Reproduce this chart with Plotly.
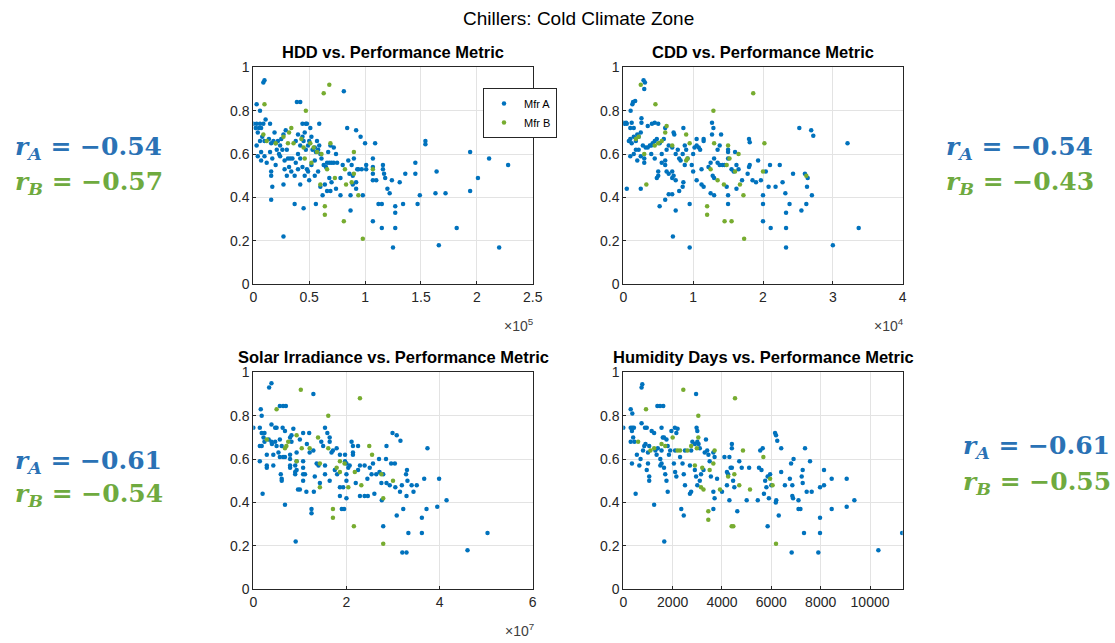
import plotly.graph_objects as go

# ---------------- data ----------------
# Panel 1: HDD (x in units of 1e5) vs performance metric
hdd_a = [(0.09,0.93),(0.10,0.94),(0.81,0.89),(0.03,0.83),(0.39,0.84),(0.42,0.84),(0.06,0.80),(0.11,0.76),
         (0.00,0.74),(0.03,0.74),(0.06,0.74),(0.09,0.74),(0.15,0.74),(0.44,0.74),(0.47,0.74),(0.59,0.74),
         (0.84,0.72),(0.92,0.71),(0.96,0.68),(1.00,0.65),(1.09,0.65),(1.54,0.66),(1.54,0.645),(1.94,0.61),(2.11,0.58),(2.28,0.55),
         (1.45,0.56),(1.45,0.51),(1.36,0.51),(1.64,0.52),(1.31,0.47),(1.24,0.48),(1.16,0.55),(1.16,0.53),(1.17,0.51),(1.18,0.49),
         (1.07,0.58),(1.07,0.54),(1.07,0.51),(1.07,0.48),(1.10,0.48),(1.01,0.55),(1.01,0.53),(0.97,0.53),(0.94,0.53),(0.90,0.58),(2.01,0.49),
         (1.94,0.43),(1.63,0.42),(1.72,0.42),(1.49,0.41),(1.47,0.37),(1.34,0.37),(1.27,0.36),(1.27,0.33),(1.12,0.37),(1.15,0.37),
         (1.07,0.29),(1.15,0.26),(1.27,0.26),(1.82,0.26),(1.25,0.17),(1.66,0.18),(2.20,0.17),(0.27,0.22),
         (0.98,0.41),(0.87,0.41),(0.78,0.41),(0.69,0.43),(0.87,0.34),(0.45,0.35),(0.37,0.37),(0.56,0.37),(0.16,0.39),(0.17,0.45),
         (0.27,0.46),(0.42,0.46),(1.20,0.44),(1.22,0.42),(0.92,0.47),(0.89,0.50),(0.85,0.57),
         (0.02,0.72),(0.05,0.72),(0.07,0.72),(0.04,0.70),(0.08,0.68),(0.06,0.66),(0.10,0.66),(0.03,0.64),(0.07,0.61),(0.04,0.59),
         (0.07,0.57),(0.12,0.56),(0.10,0.59),(0.14,0.67),(0.16,0.65),(0.18,0.66),(0.20,0.65),(0.22,0.66),(0.24,0.64),(0.25,0.67),
         (0.27,0.69),(0.29,0.71),(0.19,0.70),(0.21,0.62),(0.23,0.60),(0.15,0.61),(0.17,0.58),(0.16,0.52),(0.16,0.50),(0.20,0.55),
         (0.24,0.59),(0.26,0.62),(0.28,0.57),(0.28,0.53),(0.30,0.62),(0.31,0.58),(0.33,0.58),(0.35,0.58),(0.32,0.54),(0.34,0.52),
         (0.30,0.50),(0.38,0.56),(0.40,0.60),(0.42,0.64),(0.44,0.68),(0.46,0.70),(0.45,0.66),(0.40,0.69),(0.38,0.66),(0.47,0.62),
         (0.49,0.64),(0.50,0.66),(0.52,0.68),(0.51,0.72),(0.48,0.74),(0.53,0.62),(0.55,0.63),(0.56,0.61),(0.58,0.62),(0.57,0.66),
         (0.60,0.60),(0.61,0.58),(0.59,0.64),(0.55,0.57),(0.52,0.55),(0.48,0.53),(0.46,0.50),(0.49,0.52),(0.50,0.48),(0.44,0.54),
         (0.42,0.58),(0.37,0.50),(0.40,0.53),(0.55,0.50),(0.58,0.52),(0.60,0.45),(0.63,0.55),(0.65,0.54),(0.66,0.56),(0.68,0.56),
         (0.70,0.56),(0.72,0.56),(0.67,0.61),(0.69,0.64),(0.72,0.63),(0.74,0.60),(0.75,0.56),(0.68,0.49),(0.70,0.47),(0.74,0.44),
         (0.64,0.46),(0.62,0.41),(0.66,0.43),(0.78,0.49),(0.80,0.55),(0.86,0.51),(0.88,0.55),(0.89,0.46),(0.92,0.44),(0.93,0.53)]
hdd_b = [(0.68,0.92),(0.63,0.88),(0.10,0.83),(0.47,0.80),(0.90,0.61),(0.82,0.53),(0.88,0.47),(0.90,0.51),(0.83,0.46),
         (0.94,0.41),(0.98,0.21),(0.81,0.29),(0.64,0.32),(0.64,0.36),(0.60,0.46),(0.73,0.49),(0.69,0.65),(0.52,0.56),
         (0.46,0.58),(0.61,0.60),(0.66,0.53),(1.07,0.53),(0.34,0.72),(0.32,0.70),(0.31,0.65),(0.36,0.65),(0.27,0.68),
         (0.09,0.69),(0.12,0.66),(0.43,0.67),(0.51,0.65),(0.54,0.63),(0.45,0.63),(0.57,0.61),(0.20,0.65)]

# Panel 2: CDD (x in units of 1e4)
cdd_a = [(0.29,0.94),(0.31,0.93),(0.30,0.90),(0.14,0.84),(0.17,0.845),(0.13,0.83),(0.105,0.80),(0.00,0.745),(0.04,0.745),
         (0.12,0.745),(0.26,0.765),(0.26,0.745),(0.41,0.74),(0.45,0.745),(0.50,0.74),(1.27,0.745),(1.29,0.72),(0.86,0.72),
         (0.60,0.72),(2.52,0.72),(2.69,0.71),(2.72,0.685),(3.21,0.65),(1.80,0.67),(1.81,0.655),(0.72,0.70),(0.73,0.69),
         (2.43,0.51),(2.60,0.51),(2.64,0.49),(2.63,0.45),(2.70,0.41),(2.62,0.37),(2.55,0.34),(2.38,0.37),(2.32,0.42),
         (2.33,0.33),(2.33,0.26),(2.33,0.17),(2.11,0.26),(2.00,0.29),(2.00,0.37),(2.00,0.41),(2.08,0.45),(2.18,0.45),
         (2.28,0.47),(2.24,0.55),(2.10,0.55),(2.04,0.52),(1.97,0.48),(1.90,0.47),(1.85,0.48),(1.80,0.54),(1.81,0.55),
         (1.78,0.51),(1.93,0.57),(1.70,0.48),(1.65,0.53),(1.62,0.44),(1.58,0.52),(1.55,0.53),(1.62,0.55),(1.50,0.61),
         (1.50,0.62),(1.50,0.58),(1.48,0.45),(1.50,0.41),(1.50,0.37),(1.42,0.55),(1.38,0.55),(1.35,0.56),(1.30,0.58),
         (1.25,0.56),(1.22,0.54),(1.28,0.50),(1.30,0.49),(1.30,0.41),(1.25,0.42),(1.15,0.45),(1.12,0.46),(1.15,0.67),
         (1.15,0.66),(1.05,0.67),(1.02,0.63),(1.08,0.63),(1.10,0.62),(1.00,0.60),(0.98,0.55),(1.00,0.52),(1.05,0.48),
         (0.95,0.37),(0.95,0.17),(1.27,0.69),(1.35,0.62),(1.40,0.69),(1.38,0.64),(1.12,0.53),(3.00,0.18),(3.37,0.26),
         (0.71,0.22),(0.75,0.34),(0.52,0.36),(0.60,0.39),(0.65,0.415),(0.70,0.415),(0.80,0.43),(0.85,0.45),(0.86,0.47),
         (0.75,0.48),(0.70,0.49),(0.72,0.50),(0.70,0.52),(0.65,0.51),(0.62,0.52),(0.60,0.55),(0.60,0.57),(0.55,0.56),
         (0.50,0.50),(0.48,0.49),(0.50,0.52),(0.45,0.58),(0.40,0.60),(0.42,0.65),(0.45,0.66),(0.48,0.67),(0.52,0.65),
         (0.55,0.60),(0.62,0.62),(0.65,0.64),(0.70,0.63),(0.75,0.60),(0.78,0.62),(0.80,0.58),(0.85,0.60),(0.90,0.62),
         (0.92,0.58),(0.88,0.55),(0.82,0.57),(0.30,0.56),(0.30,0.58),(0.25,0.59),(0.20,0.57),(0.15,0.60),(0.10,0.59),
         (0.05,0.44),(0.25,0.44),(0.12,0.65),(0.10,0.67),(0.15,0.68),(0.20,0.69),(0.22,0.68),(0.25,0.70),(0.28,0.64),
         (0.32,0.63),(0.35,0.63),(0.38,0.64),(0.18,0.62),(0.22,0.62),(0.10,0.72),(0.15,0.72),(0.05,0.74),(0.35,0.73),
         (0.40,0.64),(0.02,0.74),(0.08,0.66),(0.18,0.66),(0.58,0.67),(0.88,0.64),(1.05,0.64),(1.45,0.55),(1.60,0.61)]
cdd_b = [(0.25,0.92),(1.86,0.88),(0.46,0.83),(1.29,0.80),(0.62,0.73),(0.60,0.70),(0.18,0.67),(0.22,0.68),(0.30,0.60),
         (0.45,0.64),(0.50,0.65),(0.55,0.66),(0.90,0.69),(0.95,0.65),(0.90,0.57),(0.92,0.58),(1.30,0.65),(1.35,0.48),
         (1.44,0.46),(1.50,0.64),(1.48,0.55),(1.52,0.58),(1.60,0.52),(1.65,0.60),(1.72,0.41),(1.55,0.29),(1.45,0.29),
         (1.20,0.36),(1.20,0.32),(1.25,0.53),(1.73,0.21),(2.02,0.65),(2.00,0.52),(2.62,0.50),(0.33,0.46),(0.70,0.64),(1.67,0.46)]

# Panel 3: Solar irradiance (x in units of 1e7)
sol_a = [(0.34,0.93),(0.39,0.95),(1.29,0.90),(0.16,0.83),(0.18,0.80),(0.57,0.845),(0.64,0.845),(0.70,0.845),
         (0.00,0.745),(0.14,0.745),(0.18,0.72),(0.24,0.72),(0.39,0.76),(0.47,0.745),(0.50,0.745),(0.63,0.745),(0.68,0.73),
         (0.86,0.74),(0.82,0.71),(1.07,0.72),(0.22,0.70),(0.24,0.68),(0.39,0.68),(0.47,0.68),(0.57,0.69),(0.14,0.66),
         (0.29,0.62),(0.43,0.62),(0.54,0.63),(0.14,0.59),(0.29,0.57),(0.43,0.57),(0.57,0.61),(0.64,0.61),(0.79,0.60),
         (0.90,0.57),(0.93,0.55),(1.07,0.53),(0.90,0.53),(0.79,0.56),(0.61,0.51),(0.61,0.50),(0.96,0.46),(0.29,0.56),
         (0.18,0.66),(0.33,0.69),(0.40,0.67),(0.50,0.66),(0.61,0.66),(0.79,0.70),(0.82,0.68),(0.68,0.61),(0.79,0.62),
         (0.93,0.63),(0.93,0.59),(0.79,0.57),(0.90,0.54),(1.07,0.59),(1.07,0.56),(1.11,0.53),(1.07,0.50),(1.14,0.45),
         (1.00,0.46),(0.59,0.53),(1.25,0.37),(1.25,0.35),(0.68,0.39),(0.20,0.44),(0.91,0.22),(1.21,0.63),(1.29,0.64),
         (1.36,0.58),(1.32,0.52),(1.43,0.49),(1.50,0.66),(1.46,0.68),(1.54,0.745),(1.59,0.72),(1.64,0.70),(1.64,0.68),
         (1.54,0.57),(1.54,0.53),(1.64,0.50),(1.68,0.63),(1.71,0.64),(1.79,0.65),(1.86,0.62),(1.86,0.47),(1.93,0.47),
         (1.86,0.43),(1.90,0.37),(1.97,0.62),(1.97,0.59),(2.00,0.58),(2.04,0.56),(2.07,0.57),(2.00,0.53),(2.00,0.50),
         (2.00,0.42),(2.11,0.68),(2.14,0.66),(2.25,0.66),(2.14,0.63),(2.14,0.62),(2.29,0.57),(2.39,0.57),(2.29,0.43),
         (2.39,0.43),(2.46,0.43),(2.54,0.53),(2.57,0.58),(2.64,0.53),(2.71,0.54),(2.79,0.53),(2.86,0.66),(2.96,0.58),
         (3.04,0.58),(2.75,0.49),(2.86,0.49),(2.93,0.48),(2.79,0.29),(2.99,0.72),(3.08,0.71),(3.16,0.685),(3.74,0.65),
         (4.15,0.41),(3.95,0.38),(3.99,0.51),(3.67,0.51),(3.72,0.37),(3.62,0.33),(3.62,0.26),(3.33,0.26),(3.20,0.17),
         (3.29,0.17),(4.60,0.18),(5.03,0.26),(3.51,0.48),(3.40,0.48),(3.44,0.45),(3.29,0.43),(3.19,0.48),(3.08,0.34),
         (3.22,0.37),(2.76,0.41),(2.85,0.60),(3.30,0.55),(3.28,0.53),(3.31,0.50),(3.15,0.45),(3.05,0.47),(2.45,0.51),
         (2.50,0.56),(2.70,0.60),(2.60,0.44),(2.20,0.49),(2.25,0.55),(1.75,0.55),(1.80,0.53),(1.95,0.37),(1.30,0.45),
         (1.40,0.57),(1.15,0.67),(1.00,0.69),(1.20,0.72)]
sol_b = [(1.02,0.92),(2.29,0.88),(1.61,0.80),(0.50,0.83),(0.93,0.71),(1.04,0.65),(1.21,0.65),(1.39,0.70),(1.61,0.65),
         (1.79,0.56),(1.86,0.54),(1.96,0.58),(2.18,0.54),(2.04,0.47),(2.32,0.48),(2.49,0.66),(2.55,0.62),(2.79,0.42),
         (3.00,0.50),(1.71,0.37),(1.71,0.33),(2.16,0.29),(2.79,0.21),(1.43,0.47),(1.86,0.59),(0.93,0.59),(1.43,0.58),
         (0.71,0.66),(0.29,0.69),(0.68,0.65),(0.75,0.68),(2.75,0.53)]

# Panel 4: Humidity days
hum_a = [(740,0.93),(770,0.945),(2950,0.90),(300,0.83),(365,0.81),(1380,0.845),(1490,0.845),(1620,0.845),(0,0.745),
         (300,0.745),(365,0.745),(430,0.745),(740,0.765),(880,0.745),(950,0.745),(1550,0.745),(2090,0.745),(2970,0.745),
         (3000,0.73),(6150,0.72),(6190,0.71),(6240,0.685),(7365,0.65),(9365,0.41),(9054,0.38),(9054,0.51),(8446,0.51),
         (8446,0.37),(7973,0.33),(7973,0.26),(7324,0.26),(6824,0.17),(7905,0.17),(10338,0.18),(11300,0.26),(1660,0.22),
         (7973,0.47),(8135,0.48),(8135,0.55),(7432,0.45),(7635,0.45),(7568,0.59),(7270,0.49),(7230,0.52),(7270,0.55),
         (7100,0.41),(7180,0.37),(7100,0.37),(6900,0.60),(6800,0.58),(6850,0.48),(6750,0.51),(6850,0.43),(6880,0.42),
         (6550,0.48),(6400,0.54),(6400,0.65),(6300,0.34),(6200,0.41),(6180,0.40),(6000,0.48),(5950,0.53),(5850,0.52),
         (5900,0.42),(5850,0.29),(5800,0.47),(5750,0.50),(5700,0.44),(5650,0.65),(5550,0.64),(5600,0.55),(5500,0.56),
         (5450,0.41),(5100,0.56),(5000,0.41),(4800,0.56),(4700,0.59),(4620,0.36),(4500,0.47),(4450,0.50),(4400,0.56),
         (4350,0.56),(4400,0.65),(4400,0.67),(4300,0.61),(4250,0.53),(4200,0.54),(4100,0.61),(4300,0.41),(4200,0.48),
         (4000,0.45),(3800,0.51),(3700,0.61),(3650,0.63),(3650,0.45),(3700,0.42),(3650,0.37),(3550,0.52),(3500,0.59),
         (3450,0.62),(3400,0.64),(3350,0.69),(3300,0.63),(3250,0.55),(3100,0.50),(3100,0.65),(3050,0.67),(3000,0.68),
         (2900,0.67),(2800,0.68),(2750,0.64),(2700,0.57),(2750,0.45),(2700,0.44),(2900,0.55),(2950,0.52),(3000,0.48),
         (3150,0.53),(2500,0.64),(2400,0.58),(2450,0.53),(2500,0.48),(2350,0.37),(2450,0.34),(2300,0.61),(2200,0.74),
         (2150,0.72),(2100,0.64),(2050,0.58),(2100,0.54),(2150,0.52),(1900,0.64),(1850,0.62),(1800,0.66),(1750,0.69),
         (1650,0.70),(1600,0.70),(1550,0.64),(1500,0.60),(1550,0.58),(1650,0.56),(1700,0.53),(1750,0.50),(1800,0.45),
         (1400,0.65),(1300,0.64),(1250,0.72),(1150,0.73),(1050,0.66),(1000,0.63),(1000,0.58),(1050,0.52),(1050,0.50),
         (950,0.55),(900,0.67),(850,0.66),(800,0.64),(700,0.60),(650,0.57),(550,0.62),(450,0.68),(400,0.70),(350,0.73),
         (300,0.68),(350,0.58),(500,0.44),(1250,0.39),(1500,0.57),(1950,0.73),(1350,0.62)]
hum_b = [(2432,0.92),(4527,0.88),(920,0.83),(3040,0.80),(3040,0.70),(2980,0.65),(2200,0.64),(2300,0.64),(2600,0.64),
         (2750,0.66),(1550,0.67),(1700,0.66),(2000,0.70),(1100,0.64),(1250,0.65),(600,0.68),(3700,0.64),(3650,0.58),
         (3500,0.55),(4250,0.52),(4500,0.53),(4700,0.48),(3250,0.46),(3150,0.47),(3919,0.46),(5135,0.46),(5676,0.61),
         (5950,0.51),(6050,0.48),(3446,0.36),(3446,0.32),(4392,0.29),(4459,0.29),(6189,0.21),(4850,0.64),(3200,0.56),(2900,0.57)]

panel_titles = ["HDD vs. Performance Metric", "CDD vs. Performance Metric",
                "Solar Irradiance vs. Performance Metric", "Humidity Days vs. Performance Metric"]
x_ranges = [[0, 2.5], [0, 4], [0, 6], [0, 11324]]
x_ticks = [[0, 0.5, 1, 1.5, 2, 2.5], [0, 1, 2, 3, 4], [0, 2, 4, 6], [0, 2000, 4000, 6000, 8000, 10000]]
x_tick_text = [["0", "0.5", "1", "1.5", "2", "2.5"], ["0", "1", "2", "3", "4"], ["0", "2", "4", "6"],
               ["0", "2000", "4000", "6000", "8000", "10000"]]
exponents = ["5", "4", "7", None]
y_ticks = [0, 0.2, 0.4, 0.6, 0.8, 1]
y_tick_text = ["0", "0.2", "0.4", "0.6", "0.8", "1"]
r_labels = [("−0.54", "−0.57"), ("−0.54", "−0.43"), ("−0.61", "−0.54"), ("−0.61", "−0.55")]

# ---------------- layout geometry (pixels) ----------------
W, H = 1115, 643
col_px = [(253.3, 532.7), (623.3, 902.7)]
row_px = [(67.3, 284.3), (372.3, 589.3)]

BLUE = "#0072BD"
GREEN = "#77AC30"
TXT_BLUE = "#2A72B5"
TXT_GREEN = "#6FAA3F"
AX = "#262626"

fig = go.Figure()
series = [(hdd_a, hdd_b), (cdd_a, cdd_b), (sol_a, sol_b), (hum_a, hum_b)]
annotations = []
for i, (sa, sb) in enumerate(series):
    r, c = divmod(i, 2)
    xs = "x" if i == 0 else f"x{i+1}"
    ys = "y" if i == 0 else f"y{i+1}"
    fig.add_trace(go.Scatter(x=[p[0] for p in sa], y=[p[1] for p in sa], mode="markers",
                             marker=dict(color=BLUE, size=4.5), name="Mfr A", showlegend=(i == 0),
                             xaxis=xs, yaxis=ys))
    fig.add_trace(go.Scatter(x=[p[0] for p in sb], y=[p[1] for p in sb], mode="markers",
                             marker=dict(color=GREEN, size=4.5), name="Mfr B", showlegend=(i == 0),
                             xaxis=xs, yaxis=ys))
    x0, x1 = col_px[c]
    y0, y1 = row_px[r]
    axcommon = dict(showline=True, mirror=True, linecolor=AX, linewidth=1, showgrid=True,
                    gridcolor="#E3E3E3", gridwidth=1, zeroline=False, ticks="inside", ticklen=3,
                    tickcolor=AX, automargin=False,
                    tickfont=dict(family="Liberation Sans, Arial", size=14, color=AX))
    fig.layout[f"xaxis{'' if i == 0 else i+1}"] = dict(
        domain=[x0 / W, x1 / W], anchor=ys, range=x_ranges[i], tickvals=x_ticks[i],
        ticktext=x_tick_text[i], **axcommon)
    fig.layout[f"yaxis{'' if i == 0 else i+1}"] = dict(
        domain=[1 - y1 / H, 1 - y0 / H], anchor=xs, range=[0, 1], tickvals=y_ticks,
        ticktext=y_tick_text, **axcommon)
    # subplot title
    annotations.append(dict(text=f"<b>{panel_titles[i]}</b>", x=(x0 + x1) / 2 / W, y=1 - (y0 - 15) / H,
                            xref="paper", yref="paper", xanchor="center", yanchor="middle", showarrow=False,
                            font=dict(family="Liberation Sans, Arial", size=16.5, color="#000000")))
    if exponents[i]:
        annotations.append(dict(text=f"×10<sup>{exponents[i]}</sup>", x=(x1 + 3) / W, y=1 - (y1 + 41) / H,
                                xref="paper", yref="paper", xanchor="right", yanchor="middle", showarrow=False,
                                font=dict(family="Liberation Sans, Arial", size=14, color="#404040")))

# correlation labels
r_pos = [(13, 148, 183), (944, 148, 183), (13, 462, 495), (961, 447, 483)]
for (ra, rb), (lx, ya, yb) in zip(r_labels, r_pos):
    annotations.append(dict(text=f"<b><i>r</i><sub><i>A</i></sub> = {ra}</b>", x=lx / W, y=1 - ya / H,
                            xref="paper", yref="paper", xanchor="left", yanchor="middle", showarrow=False,
                            font=dict(family="DejaVu Serif, Liberation Serif", size=25, color=TXT_BLUE)))
    annotations.append(dict(text=f"<b><i>r</i><sub><i>B</i></sub> = {rb}</b>", x=lx / W, y=1 - yb / H,
                            xref="paper", yref="paper", xanchor="left", yanchor="middle", showarrow=False,
                            font=dict(family="DejaVu Serif, Liberation Serif", size=25, color=TXT_GREEN)))

# main title
annotations.append(dict(text="Chillers: Cold Climate Zone", x=578 / W, y=1 - 18 / H, xref="paper", yref="paper",
                        xanchor="center", yanchor="middle", showarrow=False,
                        font=dict(family="Liberation Sans, Arial", size=19, color="#000000")))

fig.update_layout(
    width=W, height=H, margin=dict(l=0, r=0, t=0, b=0),
    paper_bgcolor="white", plot_bgcolor="white",
    annotations=annotations,
    legend=dict(x=483 / W, y=1 - 88 / H, xanchor="left", yanchor="top", bgcolor="white",
                bordercolor=AX, borderwidth=1, font=dict(family="Liberation Sans, Arial", size=11, color="#000"),
                tracegroupgap=0),
)
fig.write_html("out.html")
